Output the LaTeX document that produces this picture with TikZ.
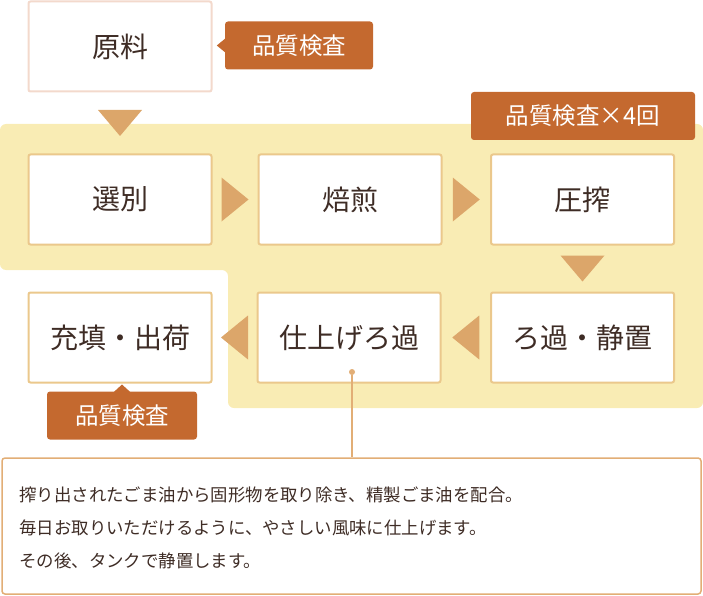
\documentclass[tikz,border=0pt]{standalone}
\usepackage{fontspec}
\setmainfont{Noto Sans CJK JP}
\usetikzlibrary{calc}
\definecolor{boxline}{HTML}{EBC88C}
\definecolor{pinkline}{HTML}{F3D9CC}
\definecolor{band}{HTML}{F9ECB4}
\definecolor{arrowc}{HTML}{DCA66A}
\definecolor{badgec}{HTML}{C4692F}
\definecolor{txt}{HTML}{3E2C25}
\definecolor{callc}{HTML}{E2AE76}
\tikzset{
  stepbox/.style={draw=boxline, line width=2pt, fill=white, rounded corners=2pt,
    minimum width=183pt, minimum height=90pt, inner sep=0pt, text=txt,
    font=\fontsize{28}{32}\selectfont},
  badge/.style={fill=badgec, rounded corners=3pt, text=white, inner sep=0pt,
    minimum height=48pt, font=\fontsize{23.5}{26}\selectfont},
  tri/.style={fill=arrowc},
}
\begin{document}
\begin{tikzpicture}[x=1pt,y=-1pt]
\useasboundingbox (0,0) rectangle (703,596);
% yellow band
\fill[band, rounded corners=6pt] (0,124) -- (703,124) -- (703,408) -- (228,408) -- (228,270) -- (0,270) -- cycle;
% boxes
\node[stepbox, draw=pinkline] (raw) at (120,46.5) {原料};
\node[stepbox] (sel) at (120,199.5) {選別};
\node[stepbox] (roast) at (350,199.5) {焙煎};
\node[stepbox] (press) at (582.5,199.5) {圧搾};
\node[stepbox] (fill) at (120,337.5) {充填・出荷};
\node[stepbox] (fin) at (349,337.5) {仕上げろ過};
\node[stepbox] (filt) at (582.5,337.5) {ろ過・静置};
% badges
\node[badge, minimum width=148pt] (b1) at (299,45.5) {品質検査};
\fill[badgec] ($(b1.west)+(0.5,-7)$) -- ($(b1.west)+(-8,0)$) -- ($(b1.west)+(0.5,7)$) -- cycle;
\node[badge, minimum width=224pt] (b2) at (583,116) {品質検査×4回};
\node[badge, minimum width=150pt] (b3) at (122,415.5) {品質検査};
\fill[badgec] ($(b3.north)+(-8,0.5)$) -- ($(fill.south)+(2,1)$) -- ($(b3.north)+(8,0.5)$) -- cycle;
% down arrows
\coordinate (d1) at ($(raw.south)!0.5!(sel.north)$);
\fill[tri] ($(d1)+(-22,-13)$) -- ($(d1)+(22,-13)$) -- ($(d1)+(0,13)$) -- cycle;
\coordinate (d2) at ($(press.south)!0.5!(filt.north)$);
\fill[tri] ($(d2)+(-22,-13)$) -- ($(d2)+(22,-13)$) -- ($(d2)+(0,13)$) -- cycle;
% right arrows
\coordinate (r1) at ($(sel.east)!0.5!(roast.west)$);
\fill[tri] ($(r1)+(-13.5,-22)$) -- ($(r1)+(13.5,0)$) -- ($(r1)+(-13.5,22)$) -- cycle;
\coordinate (r2) at ($(roast.east)!0.5!(press.west)$);
\fill[tri] ($(r2)+(-13.5,-22)$) -- ($(r2)+(13.5,0)$) -- ($(r2)+(-13.5,22)$) -- cycle;
% left arrows
\coordinate (l1) at ($(fin.east)!0.5!(filt.west)$);
\fill[tri] ($(l1)+(13.5,-22)$) -- ($(l1)+(-13.5,0)$) -- ($(l1)+(13.5,22)$) -- cycle;
\coordinate (l2) at ($(fill.east)!0.5!(fin.west)$);
\fill[tri] ($(l2)+(13.5,-22)$) -- ($(l2)+(-13.5,0)$) -- ($(l2)+(13.5,22)$) -- cycle;
% callout
\node[draw=callc, line width=1.5pt, fill=white, rounded corners=3pt, minimum width=699pt,
  minimum height=136pt, inner sep=0pt] (tb) at (351.5,526) {};
\node[text width=670pt, align=left, inner sep=0pt, text=txt, anchor=west,
  font=\fontsize{17.4}{33}\selectfont] (para) at ($(tb.west)+(18,2)$)
  {搾り出されたごま油から固形物を取り除き、精製ごま油を配合。\\
   毎日お取りいただけるように、やさしい風味に仕上げます。\\
   その後、タンクで静置します。};
\node[circle, fill=callc, minimum size=6pt, inner sep=0pt] (dot) at (352,372) {};
\draw[callc, line width=1.5pt] (dot) -- (dot |- tb.north);
\end{tikzpicture}
\end{document}
